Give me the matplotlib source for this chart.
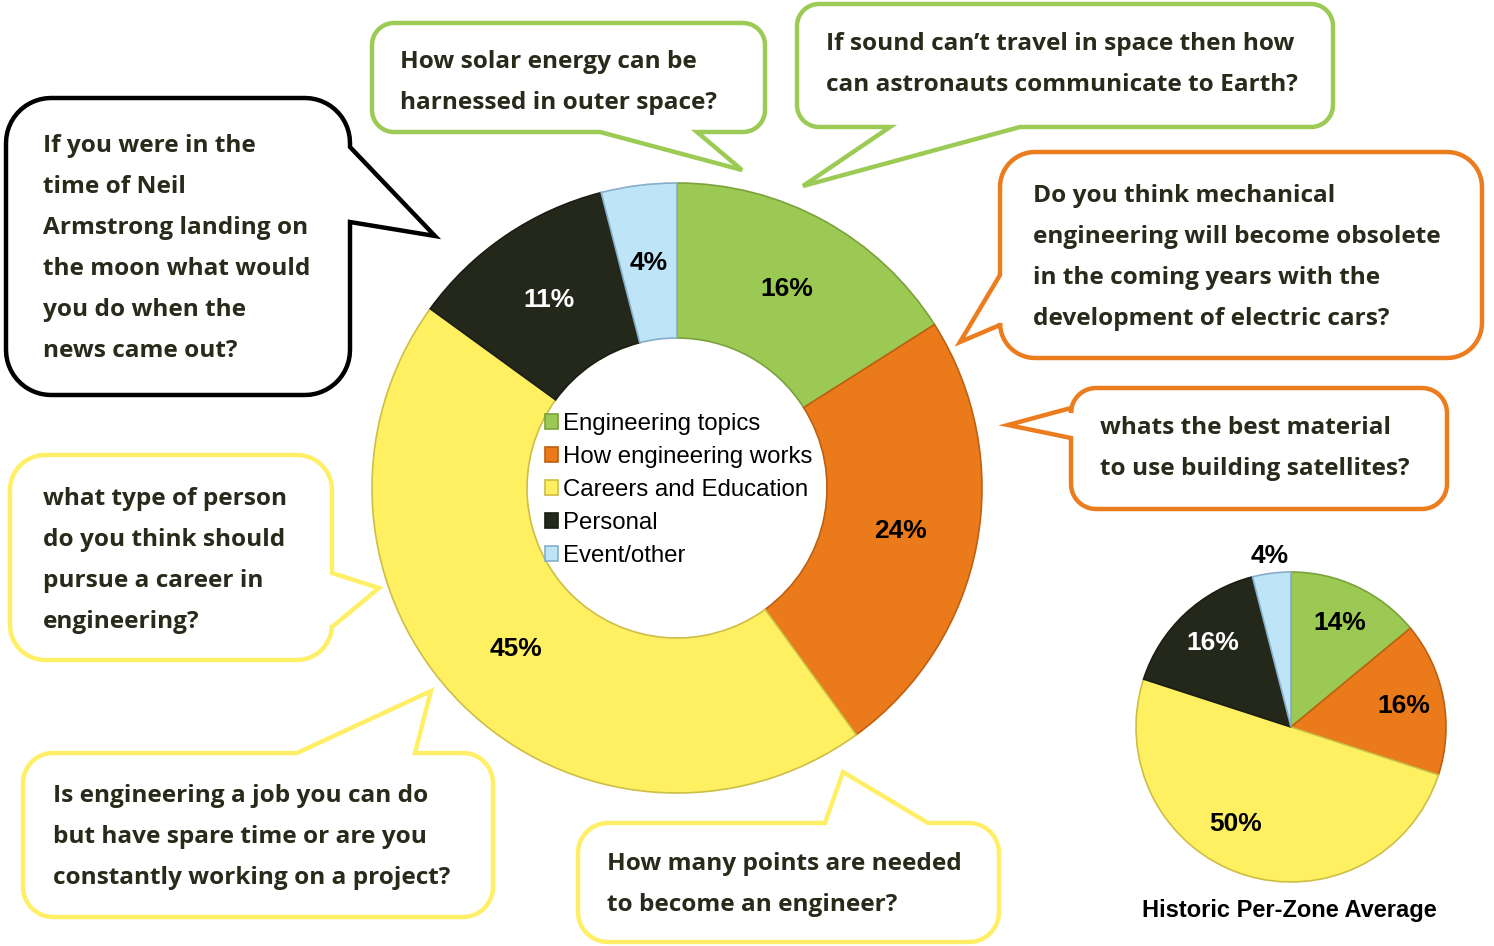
import numpy as np
import matplotlib.pyplot as plt
from matplotlib.patches import Polygon

plt.rcParams['font.family'] = ['Liberation Sans', 'DejaVu Sans']

W, H = 1494, 946

# data
categories = ["Engineering topics", "How engineering works", "Careers and Education",
              "Personal", "Event/other"]
zone_share = [16, 24, 45, 11, 4]
historic_share = [14, 16, 50, 16, 4]

colors = ["#9CC953", "#EB7B1A", "#FFF062", "#23281A", "#BDE4F7"]
edges = ["#7BA23A", "#BF5F10", "#CDBE45", "#1A1E12", "#86AEC8"]
label_colors = ["black", "black", "black", "white", "black"]

questions = [
    ["If you were in the", "time of Neil", "Armstrong landing on",
     "the moon what would", "you do when the", "news came out?"],
    ["How solar energy can be", "harnessed in outer space?"],
    ["If sound can\u2019t travel in space then how", "can astronauts communicate to Earth?"],
    ["Do you think mechanical", "engineering will become obsolete",
     "in the coming years with the", "development of electric cars?"],
    ["whats the best material", "to use building satellites?"],
    ["what type of person", "do you think should", "pursue a career in", "engineering?"],
    ["Is engineering a job you can do", "but have spare time or are you",
     "constantly working on a project?"],
    ["How many points are needed", "to become an engineer?"],
]
bubble_colors = ["#000000", "#9CCB55", "#9CCB55", "#EC7D1E", "#EC7D1E",
                 "#FFEF66", "#FFEF66", "#FFEF66"]

# bubble geometry in image pixels: box, corner radius, tail side, tail base, tail tip, text anchor
bubble_geo = [
    ((6, 98, 350, 395), 45, 'right', (147, 222), (435, 236), (43, 146)),
    ((372, 23, 765, 132), 22, 'bottom', (600, 697), (742, 170), (400, 62)),
    ((797, 4, 1333, 127), 22, 'bottom', (890, 1020), (803, 186), (826, 44)),
    ((1000, 152, 1482, 358), 35, 'left', (275, 325), (960, 342), (1033, 196)),
    ((1071, 388, 1447, 509), 25, 'left', (408, 438), (1008, 425), (1100, 428)),
    ((10, 455, 332, 660), 35, 'right', (573, 627), (379, 588), (43, 499)),
    ((23, 753, 493, 917), 30, 'top', (297, 415), (431, 691), (53, 796)),
    ((578, 823, 999, 942), 30, 'top', (825, 928), (843, 772), (607, 864)),
]


def bubble_path(box, r, side, base, tip, n=14):
    x0, y0, x1, y1 = box
    a, b = base
    pts = []

    def arc(cx, cy, t0, t1):
        for t in np.linspace(t0, t1, n):
            pts.append((cx + r * np.cos(t), cy + r * np.sin(t)))

    arc(x0 + r, y0 + r, np.pi, 1.5 * np.pi)
    if side == 'top':
        pts.extend([(a, y0), tip, (b, y0)])
    arc(x1 - r, y0 + r, 1.5 * np.pi, 2 * np.pi)
    if side == 'right':
        pts.extend([(x1, a), tip, (x1, b)])
    arc(x1 - r, y1 - r, 0, 0.5 * np.pi)
    if side == 'bottom':
        pts.extend([(b, y1), tip, (a, y1)])
    arc(x0 + r, y1 - r, 0.5 * np.pi, np.pi)
    if side == 'left':
        pts.extend([(x0, b), tip, (x0, a)])
    return [(x, H - y) for x, y in pts]


fig = plt.figure(figsize=(14.94, 9.46), dpi=100)
ax = fig.add_axes([0, 0, 1, 1])

pct_font = dict(fontsize=19, fontweight='bold', family='Liberation Sans')

# main donut
wedges, _, autotexts = ax.pie(zone_share, colors=colors, center=(677, H - 488), radius=305,
                              startangle=90, counterclock=False, autopct='%.0f%%',
                              pctdistance=0.745, textprops=pct_font,
                              wedgeprops=dict(width=155, linewidth=1.2))
for w, ec in zip(wedges, edges):
    w.set_edgecolor(ec)
for t, c in zip(autotexts, label_colors):
    t.set_color(c)

# historic pie
hw, _, hat = ax.pie(historic_share, colors=colors, center=(1291, H - 727), radius=155,
                    startangle=90, counterclock=False, autopct='%.0f%%',
                    pctdistance=0.74, textprops=pct_font,
                    wedgeprops=dict(linewidth=1.2))
for w, ec in zip(hw, edges):
    w.set_edgecolor(ec)
for t, c in zip(hat, label_colors):
    t.set_color(c)
# small slice label sits outside, the big one is nudged
for i, (rf, shift) in {4: (1.11, 0), 2: (0.72, -12)}.items():
    w = hw[i]
    ang = np.deg2rad((w.theta1 + w.theta2) / 2 + shift)
    hat[i].set_position((w.center[0] + rf * w.r * np.cos(ang),
                         w.center[1] + rf * w.r * np.sin(ang)))

ax.text(1289, H - 911, "Historic Per-Zone Average", ha='center', va='center',
        fontsize=17, fontweight='bold', color='black')

ax.legend(wedges, categories, loc='upper left', bbox_to_anchor=(545, H - 413),
          bbox_transform=ax.transData, frameon=False, prop={'family': 'Liberation Sans', 'size': 17.3},
          handlelength=0.55, handleheight=0.55, handletextpad=0.2, labelspacing=0.46,
          borderpad=0, borderaxespad=0)

# speech bubbles
for lines, ec, (box, r, side, base, tip, (tx, ty)) in zip(questions, bubble_colors, bubble_geo):
    poly = Polygon(bubble_path(box, r, side, base, tip), closed=True, facecolor='white',
                   edgecolor=ec, linewidth=3.2, joinstyle='miter', zorder=3)
    ax.add_patch(poly)
    for k, line in enumerate(lines):
        ax.text(tx, H - (ty + 41 * k), line, ha='left', va='center', fontsize=17.6,
                fontweight='bold', family=['Open Sans', 'DejaVu Sans'], color='#262B1A', zorder=4)

ax.set_xlim(0, W)
ax.set_ylim(0, H)
ax.set_aspect('equal')
ax.axis('off')

plt.savefig('out.png', dpi=100)
